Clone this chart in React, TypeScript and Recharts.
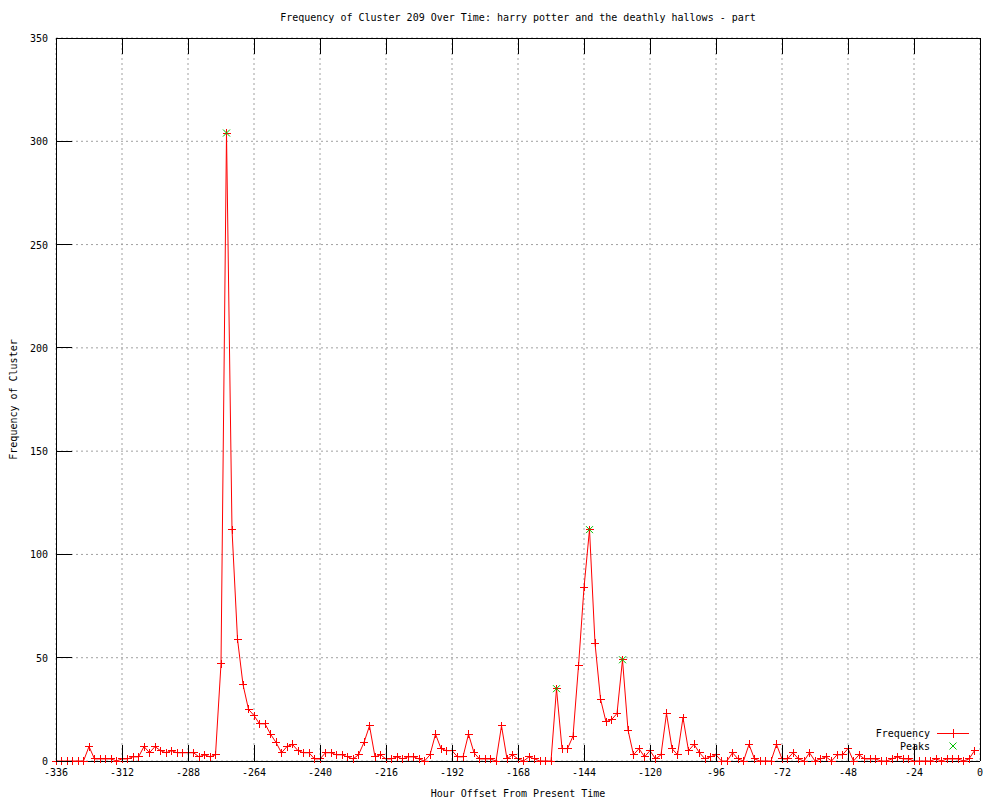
import React from 'react';
import { ComposedChart, Line, XAxis, YAxis, CartesianGrid, Legend } from 'recharts';

// hourly buckets, every 2 hours starting at -336
const startHour = -336;
const stepHours = 2;

const frequency = [
  0, 0, 0, 0, 0, 0, 7, 1, 1, 1, 1, 0, 1, 1, 2, 2, 7, 4, 7, 5,
  4, 5, 4, 4, 4, 4, 2, 3, 2, 3, 47, 304, 112, 59, 37, 25, 22, 18, 18, 13,
  9, 4, 7, 8, 5, 4, 4, 1, 1, 4, 4, 3, 3, 2, 1, 3, 9, 17, 2, 3,
  1, 1, 2, 1, 2, 2, 1, 0, 3, 13, 6, 5, 5, 2, 2, 13, 4, 1, 1, 1,
  0, 17, 1, 3, 1, 0, 2, 1, 0, 0, 0, 35, 6, 6, 12, 46, 84, 112, 57, 30,
  19, 20, 23, 49, 15, 3, 6, 2, 5, 1, 3, 23, 6, 3, 21, 5, 8, 4, 1, 2,
  3, 0, 0, 4, 1, 0, 8, 1, 0, 0, 0, 8, 1, 1, 4, 1, 0, 4, 0, 1,
  2, 0, 3, 3, 6, 0, 3, 1, 1, 1, 0, 0, 1, 2, 1, 1, 0, 0, 0, 0,
  1, 0, 1, 1, 1, 0, 1, 5,
];

const peakHours = [-274, -154, -142, -130];
const peakValues = [304, 35, 112, 49];

const xTicks = [-336, -312, -288, -264, -240, -216, -192, -168, -144, -120, -96, -72, -48, -24, 0];
const yTicks = [0, 50, 100, 150, 200, 250, 300, 350];

const data = frequency.map((f, i) => {
  const hour = startHour + i * stepHours;
  const p = peakHours.indexOf(hour);
  return { hour, freq: f, peak: p >= 0 ? peakValues[p] : null };
});

const TICK = 16;
const font = { fontFamily: '"DejaVu Sans Mono", monospace', fontSize: 10 };

const BottomTick = ({ x, y, payload }: any) => (
  <g>
    <line x1={x} y1={y} x2={x} y2={y - TICK} stroke="#000" shapeRendering="crispEdges" />
    <text x={x} y={y + 15} textAnchor="middle" fill="#000" style={font}>
      {payload.value}
    </text>
  </g>
);

const TopTick = ({ x, y }: any) => (
  <line x1={x} y1={y} x2={x} y2={y + TICK} stroke="#000" shapeRendering="crispEdges" />
);

const LeftTick = ({ x, y, payload }: any) => (
  <g>
    <line x1={x} y1={y} x2={x + TICK} y2={y} stroke="#000" shapeRendering="crispEdges" />
    <text x={x - 8} y={y + 4} textAnchor="end" fill="#000" style={font}>
      {payload.value}
    </text>
  </g>
);

const RightTick = ({ x, y }: any) => (
  <line x1={x} y1={y} x2={x - TICK} y2={y} stroke="#000" shapeRendering="crispEdges" />
);

const PlusDot = (props: any) => {
  const { cx, cy, index } = props;
  if (cx == null || cy == null) return <g key={index} />;
  return (
    <path
      key={index}
      d={`M${cx - 4},${cy}H${cx + 4}M${cx},${cy - 4}V${cy + 4}`}
      stroke="#ff0000"
      strokeWidth={1}
      shapeRendering="crispEdges"
    />
  );
};

const CrossDot = (props: any) => {
  const { cx, cy, index, value } = props;
  if (cx == null || cy == null || value == null) return <g key={index} />;
  return (
    <path
      key={index}
      d={`M${cx - 3.5},${cy - 3.5}L${cx + 3.5},${cy + 3.5}M${cx - 3.5},${cy + 3.5}L${cx + 3.5},${cy - 3.5}`}
      stroke="#00c000"
      strokeWidth={1}
    />
  );
};

const LegendBox = () => (
  <div style={{ position: 'relative', width: 120, height: 30, ...font, color: '#000', lineHeight: '13px' }}>
    <div style={{ position: 'absolute', right: 50, top: 2, whiteSpace: 'nowrap' }}>Frequency</div>
    <div style={{ position: 'absolute', left: 77, top: 8, width: 32, height: 1, background: '#ff0000' }} />
    <div style={{ position: 'absolute', left: 93, top: 4, width: 1, height: 9, background: '#ff0000' }} />
    <div style={{ position: 'absolute', right: 50, top: 15, whiteSpace: 'nowrap' }}>Peaks</div>
    <svg width={120} height={30} style={{ position: 'absolute', left: 0, top: 0 }}>
      <path d="M89.5,17.5L96.5,24.5M89.5,24.5L96.5,17.5" stroke="#00c000" fill="none" />
    </svg>
  </div>
);

export default function App() {
  return (
    <div style={{ position: 'absolute', left: 0, top: 0, width: 1000, height: 800, background: '#fff' }}>
      <div
        style={{
          position: 'absolute',
          left: 56,
          width: 924,
          top: 12,
          textAlign: 'center',
          ...font,
          lineHeight: '12px',
          color: '#000',
          whiteSpace: 'nowrap',
        }}
      >
        Frequency of Cluster 209 Over Time: harry potter and the deathly hallows - part
      </div>
      <ComposedChart
        width={1000}
        height={800}
        data={data}
        margin={{ top: 28, right: 0, bottom: 0, left: 0 }}
        style={font}
      >
        <CartesianGrid
          xAxisId="b"
          yAxisId="l"
          stroke="#a0a0a0"
          strokeDasharray="2 3"
          verticalValues={xTicks}
          horizontalValues={yTicks}
        />
        <XAxis
          xAxisId="b"
          dataKey="hour"
          type="number"
          domain={[-336, 0]}
          ticks={xTicks}
          interval={0}
          height={39}
          tickSize={0}
          tickMargin={0}
          tickLine={false}
          axisLine={{ stroke: '#000', shapeRendering: 'crispEdges' }}
          tick={<BottomTick />}
          label={{ value: 'Hour Offset From Present Time', position: 'insideBottom', offset: 3, style: { ...font, fill: '#000' } }}
        />
        <XAxis
          xAxisId="t"
          dataKey="hour"
          type="number"
          orientation="top"
          domain={[-336, 0]}
          ticks={xTicks}
          interval={0}
          height={10}
          tickSize={0}
          tickMargin={0}
          tickLine={false}
          axisLine={{ stroke: '#000', shapeRendering: 'crispEdges' }}
          tick={<TopTick />}
        />
        <YAxis
          yAxisId="l"
          type="number"
          domain={[0, 350]}
          ticks={yTicks}
          interval={0}
          width={56}
          tickSize={0}
          tickMargin={0}
          tickLine={false}
          axisLine={{ stroke: '#000', shapeRendering: 'crispEdges' }}
          tick={<LeftTick />}
          label={{
            value: 'Frequency of Cluster',
            angle: -90,
            position: 'insideLeft',
            offset: 13,
            style: { ...font, fill: '#000', textAnchor: 'middle' },
          }}
        />
        <YAxis
          yAxisId="r"
          orientation="right"
          type="number"
          domain={[0, 350]}
          ticks={yTicks}
          interval={0}
          width={20}
          tickSize={0}
          tickMargin={0}
          tickLine={false}
          axisLine={{ stroke: '#000', shapeRendering: 'crispEdges' }}
          tick={<RightTick />}
        />
        <Legend
          verticalAlign="middle"
          align="center"
          layout="horizontal"
          wrapperStyle={{ position: 'absolute', left: 860, top: 725, width: 120, height: 30 }}
          content={() => <LegendBox />}
        />
        <Line
          xAxisId="b"
          yAxisId="l"
          type="linear"
          dataKey="freq"
          name="Frequency"
          stroke="#ff0000"
          strokeWidth={1}
          dot={PlusDot}
          activeDot={false}
          isAnimationActive={false}
        />
        <Line
          xAxisId="b"
          yAxisId="l"
          type="linear"
          dataKey="peak"
          name="Peaks"
          stroke="none"
          dot={CrossDot}
          activeDot={false}
          isAnimationActive={false}
        />
      </ComposedChart>
    </div>
  );
}
